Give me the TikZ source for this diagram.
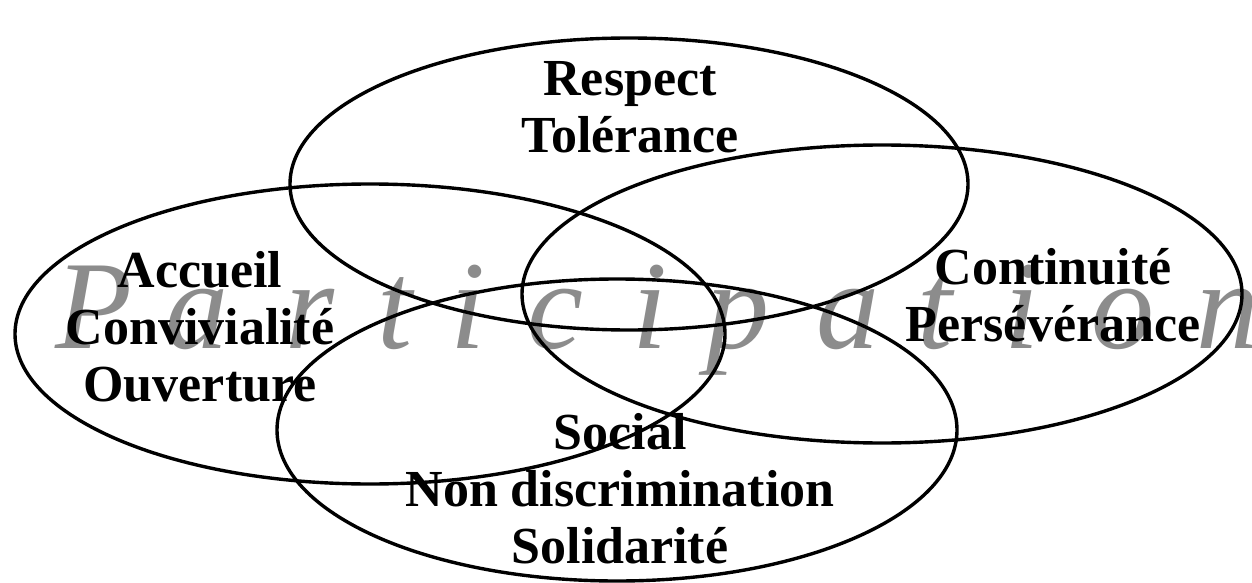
\documentclass[tikz,border=0pt]{standalone}
\usepackage{fontspec}
\setmainfont{Liberation Serif}
\usepackage{tikz}
\usetikzlibrary{shapes.geometric}

\begin{document}
\begin{tikzpicture}[
    x=0.5pt, y=-0.5pt,
    ring/.style={draw, ellipse, line width=1.7pt, inner sep=0pt},
    val/.style={font=\fontsize{26}{28.5}\selectfont\bfseries, align=center, inner sep=0pt},
    wa/.style={font=\fontsize{63}{63}\selectfont\itshape, text=black!45,
        anchor=base, inner sep=0pt},
]
    \useasboundingbox (0,0) rectangle (1252,583);

    % ---------- mot de fond ----------
    \foreach \c/\x [count=\k] in {P/94, a/197, r/310, t/395, i/468, c/555, i/650,
        p/738, a/848, t/935, i/1022, o/1123, n/1228}
        \node[wa] (w\k) at (\x,348) {\c};

    % ---------- ellipses ----------
    \node[ring, minimum width=339pt, minimum height=146pt] (ovresp) at (629,184) {};
    \node[ring, minimum width=355pt, minimum height=150pt] (ovacc)  at (370,334) {};
    \node[ring, minimum width=360pt, minimum height=149pt] (ovcont) at (882,294) {};
    \node[ring, minimum width=340pt, minimum height=151pt] (ovsoc)  at (617,430) {};

    % ---------- valeurs ----------
    \node[val] (resp) at (630,107)  {Respect\\Tolérance};
    \node[val] (acc)  at (200,327)  {Accueil\\Convivialité\\Ouverture};
    \node[val] (cont) at (1053,295) {Continuité\\Persévérance};
    \node[val] (soc)  at (620,489)  {Social\\Non discrimination\\Solidarité};
\end{tikzpicture}
\end{document}
